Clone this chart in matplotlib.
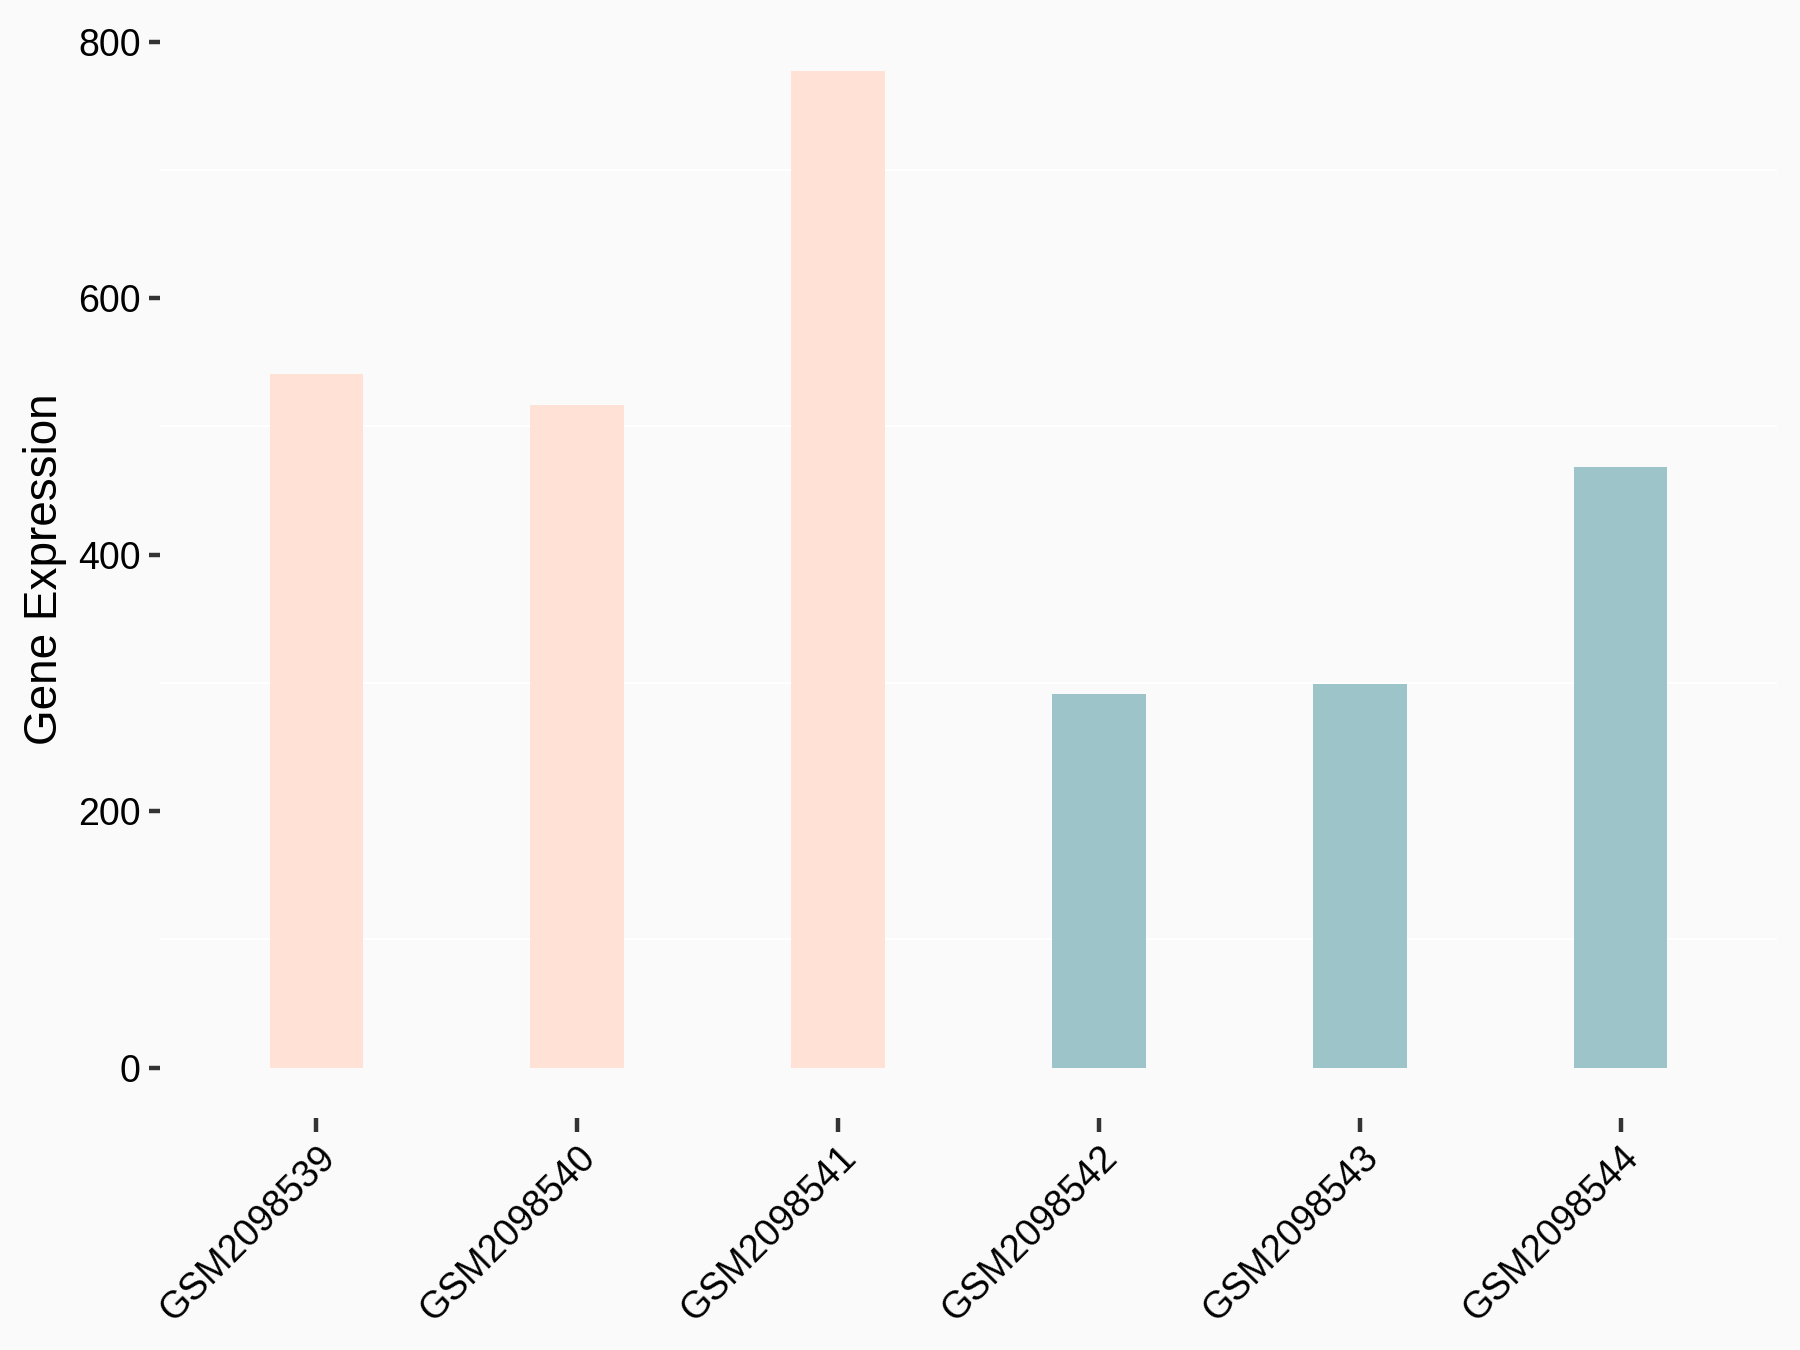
import matplotlib
matplotlib.use("Agg")
import matplotlib.pyplot as plt
import numpy as np

samples = ["GSM2098539", "GSM2098540", "GSM2098541", "GSM2098542", "GSM2098543", "GSM2098544"]
values = [541, 517, 777, 291, 299, 468]
groups = ["A", "A", "A", "B", "B", "B"]
group_colors = {"A": "#FFE1D6", "B": "#9DC4C8"}

plt.rcParams["font.family"] = ["Liberation Sans", "DejaVu Sans"]

fig = plt.figure(figsize=(9, 6.75), dpi=200)
fig.patch.set_facecolor("#FAFAFA")
top_px, bot_px = 21.4, 1117.5
ax = fig.add_axes([160 / 1800, 1 - bot_px / 1350, (1777 - 160) / 1800, (bot_px - top_px) / 1350])
ax.set_facecolor("#FAFAFA")

x = np.arange(1, len(samples) + 1)
ax.bar(x, values, width=0.36, color=[group_colors[g] for g in groups], zorder=2)

ax.set_xlim(0.4, 6.6)
ax.set_ylim(-38.85, 815.85)
ax.set_yticks([0, 200, 400, 600, 800])
ax.set_yticks([100, 300, 500, 700], minor=True)
ax.yaxis.grid(True, which="minor", color="white", linewidth=0.8, zorder=1)
ax.set_axisbelow(True)

for s in ax.spines.values():
    s.set_visible(False)

ax.set_xticks(x)
ax.set_xticklabels(samples, rotation=45, ha="right", va="top", rotation_mode="anchor")
ax.tick_params(axis="x", which="major", length=5, width=1.6, color="#333333",
               labelsize=13.5, labelcolor="black", pad=3)
ax.tick_params(axis="y", which="major", length=4, width=1.6, color="#333333",
               labelsize=13.5, labelcolor="black", pad=3)
ax.tick_params(axis="y", which="minor", length=0)

ax.set_ylabel("Gene Expression", fontsize=16.5, color="black", labelpad=4)

fig.savefig("out.png", dpi=200, facecolor=fig.get_facecolor())
